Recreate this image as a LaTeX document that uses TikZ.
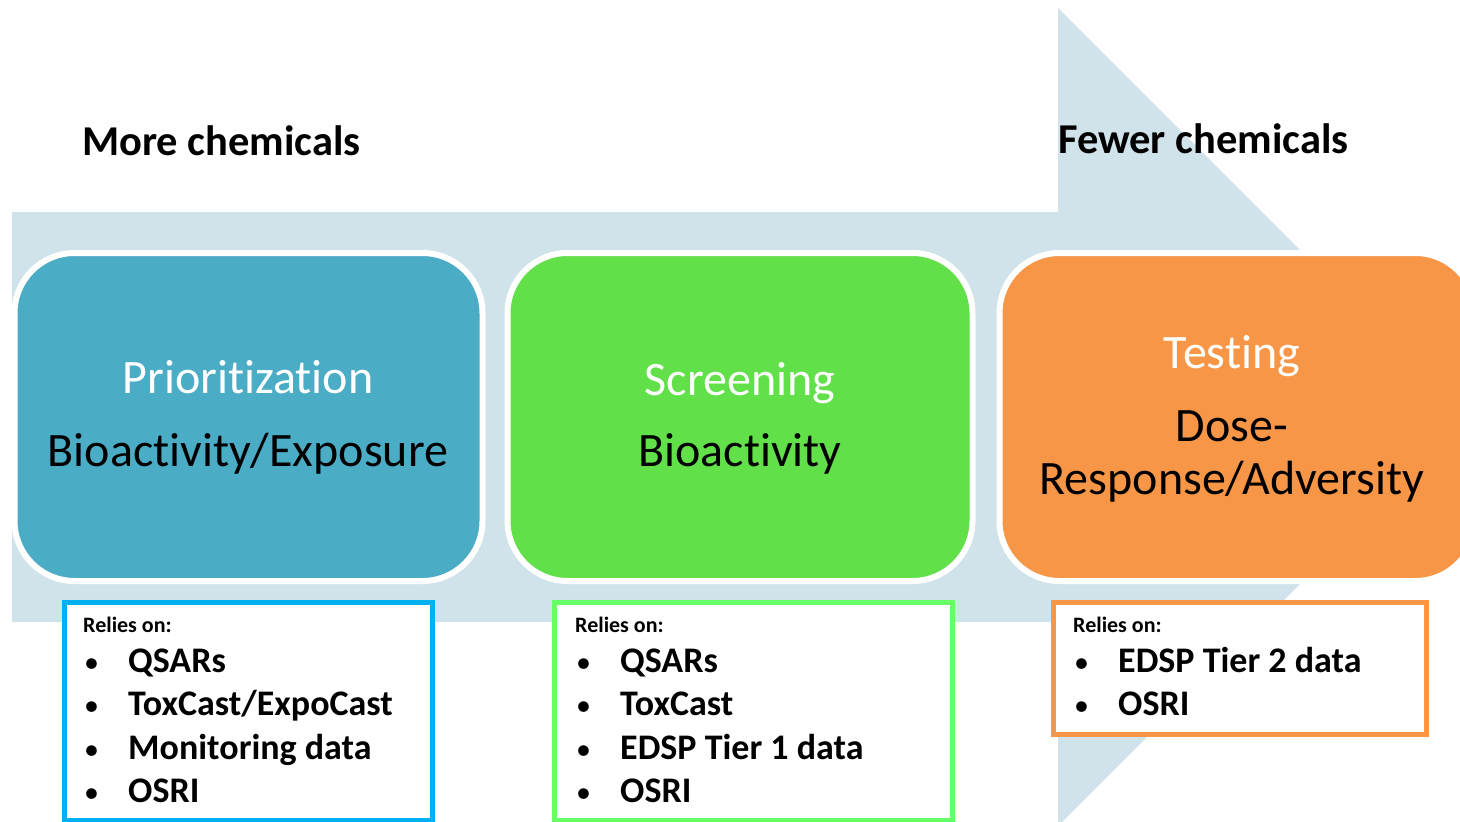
\documentclass[tikz,border=0pt]{standalone}
\usepackage{fontspec}
\setmainfont{Carlito}[Ligatures=NoCommon]
\usepackage{tikz}
\usepackage{xcolor}

\definecolor{arrowblue}{HTML}{D0E3EA}
\definecolor{prioblue}{HTML}{4BACC6}
\definecolor{screengreen}{HTML}{62E04A}
\definecolor{testorange}{HTML}{F79646}
\definecolor{cyanline}{HTML}{00B0F0}
\definecolor{greenline}{HTML}{66FF66}

\begin{document}
\begin{tikzpicture}[x=1pt, y=-1pt,
	stage/.style={rectangle, rounded corners=60pt, draw=white, line width=6pt,
		minimum height=328pt, inner sep=0pt},
	relies/.style={rectangle, fill=white, line width=5pt, inner sep=0pt},
	headtext/.style={anchor=base, inner sep=0pt, font=\fontsize{48}{56}\selectfont},
	bigtext/.style={anchor=base west, inner sep=0pt, font=\fontsize{42.5}{50}\selectfont\bfseries},
	smalltext/.style={anchor=base west, inner sep=0pt, font=\fontsize{22}{26}\selectfont\bfseries},
	itemtext/.style={anchor=base west, inner sep=0pt, font=\fontsize{36}{42}\selectfont\bfseries},
	dot/.style={anchor=base west, inner sep=0pt, font=\fontsize{30}{40}\selectfont}]
		\useasboundingbox (0, 0) rectangle (1460, 822);
		\clip (0, 0) rectangle (1460, 822);
		% big arrow behind
		\fill[arrowblue] (12, 212) -- (1058, 212) -- (1058, 8) -- (1467, 417)
			-- (1058, 826) -- (1058, 622) -- (12, 622) -- cycle;
		\node[bigtext] (more) at (82, 155) {More chemicals};
		\node[bigtext] (fewer) at (1058, 153) {Fewer chemicals};
		% stages
		\node[stage, fill=prioblue, minimum width=468pt] (prio) at (248.5, 417) {};
		\node[stage, fill=screengreen, minimum width=465pt] (screen) at (740, 417) {};
		\node[stage, fill=testorange, minimum width=476pt] (test) at (1237.5, 417) {};
		\node[headtext, white] (prio1) at (248, 393) {Prioritization};
		\node[headtext] (prio2) at (248, 466) {Bioactivity/Exposure};
		\node[headtext, white] (screen1) at (740, 395) {Screening};
		\node[headtext] (screen2) at (740, 466) {Bioactivity};
		\node[headtext, white] (test1) at (1232, 368) {Testing};
		\node[headtext] (test2) at (1232, 441) {Dose-};
		\node[headtext] (test3) at (1232, 494) {Response/Adversity};
		% what each stage relies on
		\node[relies, draw=cyanline, minimum width=368.5pt, minimum height=218pt] (relA) at (248.25, 711.5) {};
		\node[relies, draw=greenline, minimum width=398pt, minimum height=218pt] (relB) at (753.5, 711.5) {};
		\node[relies, draw=testorange, minimum width=373.5pt, minimum height=132pt] (relC) at (1239.75, 668.5) {};
		\node[smalltext] (relA0) at (83, 632) {Relies on:};
		\node[smalltext] (relB0) at (575, 632) {Relies on:};
		\node[smalltext] (relC0) at (1073, 632) {Relies on:};
		\foreach \txt [count=\i] in {QSARs, ToxCast/ExpoCast, Monitoring data, OSRI} {
			\node[dot] (dotA\i) at (84, 672 + 43.5*\i - 43.5) {\textbullet};
			\node[itemtext] (relA\i) at (128, 672 + 43.5*\i - 43.5) {\txt};
		}
		\foreach \txt [count=\i] in {QSARs, ToxCast, EDSP Tier 1 data, OSRI} {
			\node[dot] (dotB\i) at (576, 672 + 43.5*\i - 43.5) {\textbullet};
			\node[itemtext] (relB\i) at (620, 672 + 43.5*\i - 43.5) {\txt};
		}
		\foreach \txt [count=\i] in {EDSP Tier 2 data, OSRI} {
			\node[dot] (dotC\i) at (1074, 672 + 43.5*\i - 43.5) {\textbullet};
			\node[itemtext] (relC\i) at (1118, 672 + 43.5*\i - 43.5) {\txt};
		}
\end{tikzpicture}
\end{document}
